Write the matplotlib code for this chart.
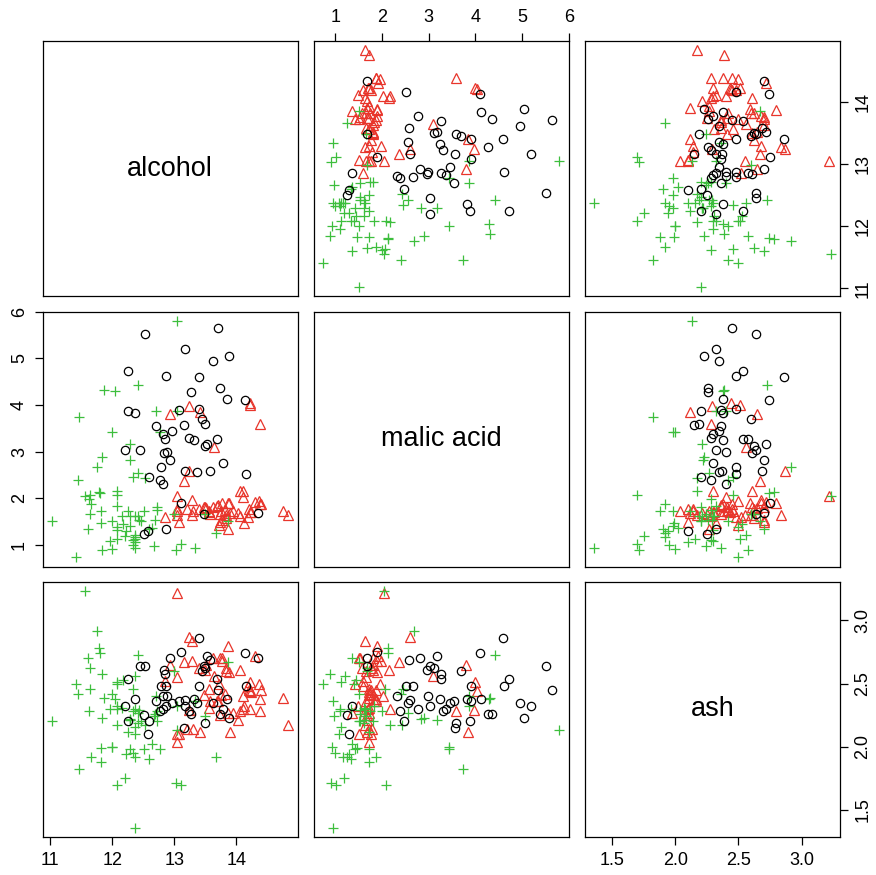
import matplotlib
matplotlib.use('Agg')
import numpy as np
import matplotlib.pyplot as plt

plt.rcParams['font.family'] = ['Liberation Sans', 'DejaVu Sans']

# wine data, three cultivars (alcohol, malic acid, ash)
alcohol1 = [14.23, 13.2, 13.16, 14.37, 13.24, 14.2, 14.39, 14.06, 14.83, 13.86, 14.1, 14.12, 13.75, 14.75, 14.38,
            13.63, 14.3, 13.83, 14.19, 13.64, 14.06, 12.93, 13.71, 12.85, 13.5, 13.05, 13.39, 13.3, 13.87, 14.02,
            13.73, 13.58, 13.68, 13.76, 13.51, 13.48, 13.28, 13.05, 13.07, 14.22, 13.56, 13.41, 13.88, 13.24, 13.05,
            14.21, 14.38, 13.9, 14.1, 13.94, 13.05, 13.83, 13.82, 13.77, 13.74, 13.56, 14.22, 13.29, 13.72]
malic1 = [1.71, 1.78, 2.36, 1.95, 2.59, 1.76, 1.87, 2.15, 1.64, 1.35, 2.16, 1.48, 1.73, 1.73, 1.87,
          1.81, 1.92, 1.57, 1.59, 3.1, 1.63, 3.8, 1.86, 1.6, 1.81, 2.05, 1.77, 1.72, 1.9, 1.68,
          1.5, 1.66, 1.83, 1.53, 1.8, 1.81, 1.64, 1.65, 1.5, 3.99, 1.71, 3.84, 1.89, 3.98, 1.77,
          4.04, 3.59, 1.68, 2.02, 1.73, 1.73, 1.65, 1.75, 1.9, 1.67, 1.73, 1.7, 1.97, 1.43]
ash1 = [2.43, 2.14, 2.67, 2.5, 2.87, 2.45, 2.45, 2.61, 2.17, 2.27, 2.3, 2.32, 2.41, 2.39, 2.38,
        2.7, 2.72, 2.62, 2.48, 2.56, 2.28, 2.65, 2.36, 2.52, 2.61, 3.22, 2.62, 2.14, 2.8, 2.21,
        2.7, 2.36, 2.36, 2.7, 2.65, 2.41, 2.84, 2.55, 2.1, 2.51, 2.31, 2.12, 2.59, 2.29, 2.1,
        2.44, 2.28, 2.12, 2.4, 2.27, 2.04, 2.6, 2.42, 2.68, 2.25, 2.46, 2.3, 2.68, 2.5]

alcohol2 = [12.37, 12.33, 12.64, 13.67, 12.37, 12.17, 12.37, 13.11, 12.37, 13.34, 12.21, 12.29, 13.86, 13.49,
            12.99, 11.96, 11.66, 13.03, 11.84, 12.33, 12.7, 12.0, 12.72, 12.08, 13.05, 11.84, 12.67, 12.16,
            11.65, 11.64, 12.08, 12.08, 12.0, 12.69, 12.29, 11.62, 12.47, 11.81, 12.29, 12.37, 12.29, 12.08,
            12.6, 12.34, 11.82, 12.51, 12.42, 12.25, 12.72, 12.22, 11.61, 11.46, 12.52, 11.76, 11.41, 12.08,
            11.03, 11.82, 12.42, 12.77, 12.0, 11.45, 11.56, 12.42, 13.05, 11.87, 12.07, 12.43, 11.79, 12.37, 12.04]
malic2 = [0.94, 1.1, 1.36, 1.25, 1.13, 1.45, 1.21, 1.01, 1.17, 0.94, 1.19, 1.61, 1.51, 1.66,
          1.67, 1.09, 1.88, 0.9, 2.89, 0.99, 3.87, 0.92, 1.81, 1.13, 3.86, 0.89, 0.98, 1.61,
          1.67, 2.06, 1.33, 1.83, 1.51, 1.53, 2.83, 1.99, 1.52, 2.12, 1.41, 1.07, 3.17, 2.08,
          1.34, 2.45, 1.72, 1.73, 2.55, 1.73, 1.75, 1.29, 1.35, 3.74, 2.43, 2.68, 0.74, 1.39,
          1.51, 1.47, 1.61, 3.43, 3.43, 2.4, 2.05, 4.43, 5.8, 4.31, 2.16, 1.53, 2.13, 1.63, 4.3]
ash2 = [1.36, 2.28, 2.02, 1.92, 2.16, 2.53, 2.56, 1.7, 1.92, 2.36, 1.75, 2.21, 2.67, 2.24,
        2.6, 2.3, 1.92, 1.71, 2.23, 1.95, 2.4, 2.0, 2.2, 2.51, 2.32, 2.58, 2.24, 2.31,
        2.62, 2.46, 2.3, 2.32, 2.42, 2.26, 2.22, 2.28, 2.2, 2.74, 1.98, 2.1, 2.21, 1.7,
        1.9, 2.46, 1.88, 1.98, 2.27, 2.12, 2.28, 1.94, 2.7, 1.82, 2.17, 2.92, 2.5, 2.5,
        2.2, 1.99, 2.19, 1.98, 2.0, 2.42, 3.23, 2.73, 2.13, 2.39, 2.17, 2.29, 2.78, 2.3, 2.38]

alcohol3 = [12.86, 12.88, 12.81, 12.7, 12.51, 12.6, 12.25, 12.53, 13.49, 12.84, 12.93, 13.36, 13.52, 13.62,
            12.25, 13.16, 13.88, 12.87, 13.32, 13.08, 13.5, 12.79, 13.11, 13.23, 12.58, 13.17, 13.84, 12.45,
            14.34, 13.48, 12.36, 13.69, 12.85, 12.96, 13.78, 13.73, 13.45, 12.82, 13.58, 13.4, 12.2, 12.77,
            14.16, 13.71, 13.4, 13.27, 13.17, 14.13]
malic3 = [1.35, 2.99, 2.31, 3.55, 1.24, 2.46, 4.72, 5.51, 3.59, 2.96, 2.81, 2.56, 3.17, 4.95,
          3.88, 3.57, 5.04, 4.61, 3.24, 3.9, 3.12, 2.67, 1.9, 3.3, 1.29, 5.19, 4.12, 3.03,
          1.68, 1.67, 3.83, 3.26, 3.27, 3.45, 2.76, 4.36, 3.7, 3.37, 2.58, 4.6, 3.03, 2.39,
          2.51, 5.65, 3.91, 4.28, 2.59, 4.1]
ash3 = [2.32, 2.4, 2.4, 2.36, 2.25, 2.2, 2.54, 2.64, 2.19, 2.61, 2.7, 2.35, 2.72, 2.35,
        2.2, 2.15, 2.23, 2.48, 2.38, 2.36, 2.62, 2.48, 2.75, 2.28, 2.1, 2.32, 2.38, 2.64,
        2.7, 2.64, 2.38, 2.54, 2.58, 2.35, 2.3, 2.26, 2.6, 2.3, 2.69, 2.86, 2.32, 2.28,
        2.48, 2.45, 2.48, 2.26, 2.37, 2.74]

var_names = ['alcohol', 'malic acid', 'ash']
var_ticks = [[11, 12, 13, 14], [1, 2, 3, 4, 5, 6], [1.5, 2.0, 2.5, 3.0]]
tick_text = [['11', '12', '13', '14'], ['1', '2', '3', '4', '5', '6'], ['1.5', '2.0', '2.5', '3.0']]

classes = [[alcohol1, malic1, ash1], [alcohol2, malic2, ash2], [alcohol3, malic3, ash3]]
# marker style per class: red triangles, green crosses, black circles
styles = [dict(marker='^', color='#E8352B', ms=7.5),
          dict(marker='+', color='#3DBE3D', ms=7.8),
          dict(marker='o', color='black', ms=6)]

# R-style ranges (data range + 4% each side)
ranges = []
for v in range(3):
    allv = np.concatenate([np.array(c[v]) for c in classes])
    lo, hi = allv.min(), allv.max()
    d = (hi - lo) * 0.04
    ranges.append((lo - d, hi + d))

fig = plt.figure(figsize=(8.76, 8.75), dpi=100)
W, H = 876.0, 875.0
lefts = [42.5, 313.8, 585.0]
tops = [41.0, 311.5, 582.0]
size = 255.0

for i in range(3):
    for j in range(3):
        ax = fig.add_axes([lefts[j] / W, 1 - (tops[i] + size) / H, size / W, size / H])
        ax.set_xlim(ranges[j])
        ax.set_ylim(ranges[i])
        for s in ax.spines.values():
            s.set_linewidth(0.9)
        ax.tick_params(axis='both', which='both', bottom=False, top=False, left=False, right=False,
                       labelbottom=False, labeltop=False, labelleft=False, labelright=False,
                       direction='out', length=5.5, width=0.9, labelsize=13, pad=5)
        ax.set_xticks(var_ticks[j])
        ax.set_xticklabels(tick_text[j])
        ax.set_yticks(var_ticks[i])
        ax.set_yticklabels(tick_text[i], rotation=90, va='center')

        if i == j:
            ax.text(0.5, 0.5, var_names[i], transform=ax.transAxes, ha='center', va='center', fontsize=19.5)
        else:
            for c, st in zip(classes, styles):
                ax.plot(c[j], c[i], linestyle='none', marker=st['marker'], markersize=st['ms'],
                        markerfacecolor='none', markeredgecolor=st['color'], markeredgewidth=0.9)

        # axes placement like R pairs()
        if i == 0 and j % 2 == 1:
            ax.tick_params(axis='x', top=True, labeltop=True)
        if i == 2 and j % 2 == 0:
            ax.tick_params(axis='x', bottom=True, labelbottom=True)
        if j == 0 and i % 2 == 1:
            ax.tick_params(axis='y', left=True, labelleft=True)
        if j == 2 and i % 2 == 0:
            ax.tick_params(axis='y', right=True, labelright=True)

plt.savefig('out.png', dpi=100)
